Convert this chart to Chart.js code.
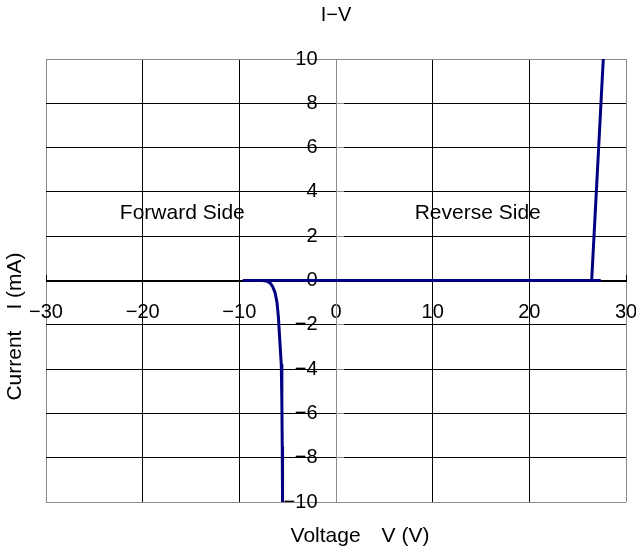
<!DOCTYPE html>
<html>
<head>
<meta charset="utf-8">
<script src="https://cdn.jsdelivr.net/npm/chart.js@4/dist/chart.umd.min.js"></script>
<style>
  html, body { margin: 0; padding: 0; background: #ffffff; }
  #wrap { width: 636px; height: 551px; }
</style>
</head>
<body>
<div id="wrap"><canvas id="c" width="636" height="551"></canvas></div>
<script>
// ---- chart data ----
const chartTitle = 'I−V';
const xAxisTitle = 'Voltage　V (V)';
const yAxisTitle = 'Current　I (mA)';
const xTickValues = [-30, -20, -10, 0, 10, 20, 30];
const yTickValues = [-10, -8, -6, -4, -2, 0, 2, 4, 6, 8, 10];

// forward side (breakdown near -5.5 V)
const forwardV = [-9.65, -7.6, -7.1, -6.8, -6.55, -6.3, -6.1, -5.95, -5.83, -5.66, -5.6, -5.56, -5.53];
const forwardI = [0, 0, -0.03, -0.12, -0.28, -0.55, -1.0, -1.7, -2.6, -3.8, -5.5, -7.5, -10];

// reverse side (breakdown near 26.5 V)
const reverseV = [-7.6, 27.3, 26.45, 27.65];
const reverseI = [0, 0, 0, 10];

const noteTexts = ['Forward Side', 'Reverse Side'];
const noteV = [-15.9, 14.66];
const noteI = [3.05, 3.05];

// ---- helpers ----
const FONT = "'Liberation Sans', Arial, 'Noto Sans CJK JP', sans-serif";
const LINE = '#000080';
const GREY = '#8a8a8a';
const fmt = v => (v < 0 ? '−' + Math.abs(v) : String(v));
const pts = (xs, ys) => xs.map((x, i) => ({ x: x, y: ys[i] }));
const lineStyle = {
  showLine: true,
  borderColor: LINE,
  backgroundColor: LINE,
  borderWidth: 3,
  pointRadius: 0,
  pointHoverRadius: 0,
  tension: 0,
  borderJoinStyle: 'round',
  fill: false
};
const noPad = s => { s.paddingLeft = 0; s.paddingRight = 0; s.paddingTop = 0; s.paddingBottom = 0; };

const textPlugin = {
  id: 'freeTexts',
  afterDraw(chart) {
    const { ctx, chartArea: a, scales } = chart;
    ctx.save();
    ctx.fillStyle = '#000';
    ctx.textBaseline = 'middle';
    ctx.textAlign = 'center';
    ctx.font = '21px ' + FONT;
    noteTexts.forEach((t, i) => {
      ctx.fillText(t, scales.x.getPixelForValue(noteV[i]), scales.y.getPixelForValue(noteI[i]));
    });
    // x axis title
    ctx.fillText(xAxisTitle, (a.left + a.right) / 2 + 24, a.bottom + 34);
    // y axis title
    ctx.translate(15, (a.top + a.bottom) / 2 + 46);
    ctx.rotate(-Math.PI / 2);
    ctx.fillText(yAxisTitle, 0, 0);
    ctx.restore();
  }
};

new Chart(document.getElementById('c'), {
  type: 'scatter',
  data: {
    datasets: [
      Object.assign({ label: 'Forward', data: pts(forwardV, forwardI) }, lineStyle),
      Object.assign({ label: 'Reverse', data: pts(reverseV, reverseI) }, lineStyle)
    ]
  },
  options: {
    responsive: false,
    animation: false,
    devicePixelRatio: 1,
    layout: { autoPadding: false, padding: { top: 0, left: 46, right: 10, bottom: 49 } },
    plugins: {
      legend: { display: false },
      tooltip: { enabled: false },
      colors: { enabled: false },
      title: {
        display: true,
        text: chartTitle,
        color: '#000',
        font: { family: FONT, size: 20, weight: 'normal' },
        padding: { top: 3, bottom: 32 }
      }
    },
    scales: {
      x: {
        type: 'linear',
        position: 'center',
        min: -30, max: 30,
        afterBuildTicks: s => { s.ticks = xTickValues.map(v => ({ value: v })); },
        afterFit: noPad,
        grid: {
          color: c => (c.tick && (Math.abs(c.tick.value) === 30 || c.tick.value === 0)) ? GREY : '#000',
          lineWidth: 1,
          drawTicks: true,
          tickLength: -7,
          tickColor: '#000'
        },
        border: { display: true, color: '#000', width: 1 },
        ticks: {
          color: '#000',
          padding: 26.5,
          maxRotation: 0,
          autoSkip: false,
          font: { family: FONT, size: 20 },
          callback: v => fmt(v)
        }
      },
      y: {
        type: 'linear',
        position: 'center',
        min: -10, max: 10,
        afterBuildTicks: s => { s.ticks = yTickValues.map(v => ({ value: v })); },
        afterFit: noPad,
        grid: {
          color: c => (c.tick && Math.abs(c.tick.value) === 10) ? GREY : '#000',
          lineWidth: 1,
          drawTicks: true,
          tickLength: -8,
          tickColor: GREY
        },
        border: { display: true, color: GREY, width: 1 },
        ticks: {
          color: '#000',
          padding: 26.5,
          autoSkip: false,
          font: { family: FONT, size: 20 },
          callback: v => fmt(v)
        }
      }
    }
  },
  plugins: [textPlugin]
});
</script>
</body>
</html>
